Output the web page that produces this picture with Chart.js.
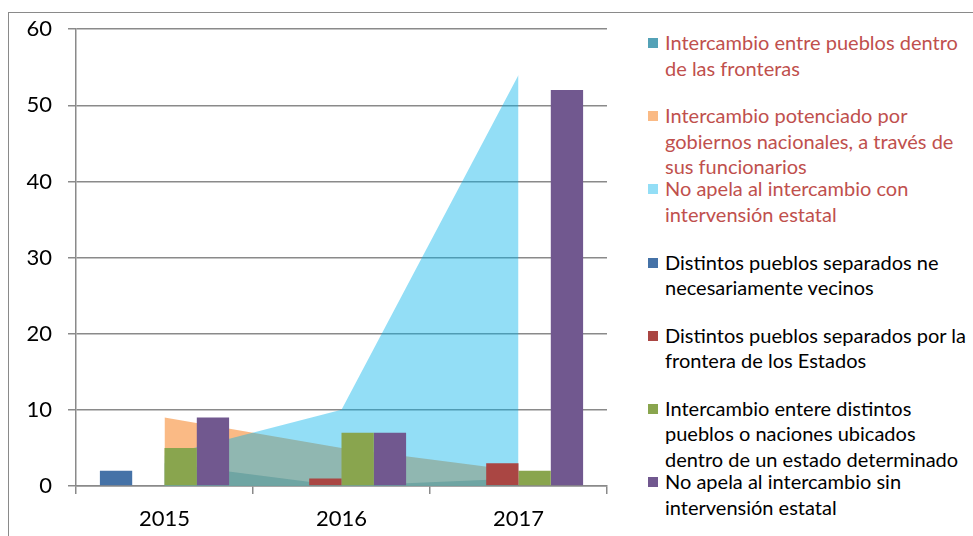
<!DOCTYPE html>
<html>
<head>
<meta charset="utf-8">
<script src="https://cdn.jsdelivr.net/npm/chart.js@4"></script>
<style>
  html, body { margin: 0; padding: 0; background: #fff; }
  #wrap { position: relative; width: 973px; height: 536px; overflow: hidden; font-family: Lato, sans-serif; }
  #frame { position: absolute; left: 8px; top: 12px; width: 980px; height: 540px; border-left: 1px solid #8a8a8a; border-top: 1px solid #8a8a8a; }
  #mixChart { position: absolute; left: 0; top: 0; }
  #legend { position: absolute; left: 648px; top: 30px; width: 325px; }
  .item { position: relative; height: 73.2px; }
  .box { position: absolute; left: 0; top: 8px; width: 10px; height: 10px; }
  .txt { position: absolute; left: 17px; top: 0; width: 306px; font-size: 20px; line-height: 25.5px; }
</style>
</head>
<body>
<div id="wrap">
  <div id="frame"></div>
  <canvas id="mixChart" width="615" height="536"></canvas>
  <div id="legend"></div>
</div>
<script>
// categories
const years = ['2015', '2016', '2017'];

// area series
const tealArea = [3, 0, 1];
const orangeArea = [9, 5, 2];
const lightBlueArea = [4, 10, 54];

// column series
const blueBars = [2, 0, 0];
const redBars = [0, 1, 3];
const greenBars = [5, 7, 2];
const purpleBars = [9, 7, 52];

// y axis
const yTicks = [0, 10, 20, 30, 40, 50, 60];

const seriesNames = [
    'Intercambio entre pueblos dentro de las fronteras',
    'Intercambio potenciado por gobiernos nacionales, a través de sus funcionarios',
    'No apela al intercambio con intervensión estatal',
    'Distintos pueblos separados ne necesariamente vecinos',
    'Distintos pueblos separados por la frontera de los Estados',
    'Intercambio entere distintos pueblos o naciones ubicados dentro de un estado determinado',
    'No apela al intercambio sin intervensión estatal'
];

const gridGray = '#8a8a8a';

function areaSet(label, data, color, order) {
    return {
        type: 'line',
        label: label,
        data: data,
        backgroundColor: color,
        borderWidth: 0,
        borderColor: 'transparent',
        fill: 'origin',
        tension: 0,
        pointRadius: 0,
        order: order
    };
}

function barSet(label, data, color, order) {
    return {
        type: 'bar',
        label: label,
        data: data,
        backgroundColor: color,
        borderWidth: 0,
        barPercentage: 1,
        categoryPercentage: 0.73,
        order: order
    };
}

// higher order is painted first: areas below, columns on top
const datasets = [
    areaSet(seriesNames[0], tealArea, 'rgba(65,152,175,0.9)', 7),
    areaSet(seriesNames[1], orangeArea, 'rgba(247,150,70,0.66)', 6),
    areaSet(seriesNames[2], lightBlueArea, 'rgba(4,178,234,0.43)', 5),
    barSet(seriesNames[3], blueBars, '#4572A7', 1),
    barSet(seriesNames[4], redBars, '#AA4643', 2),
    barSet(seriesNames[5], greenBars, '#89A54E', 3),
    barSet(seriesNames[6], purpleBars, '#71588F', 4)
];

const ctx = document.getElementById('mixChart').getContext('2d');

const mixChart = new Chart(ctx, {
    type: 'bar',
    data: { labels: years, datasets: datasets },
    options: {
        responsive: false,
        animation: false,
        layout: { padding: { top: 28, right: 8, left: 0, bottom: 0 } },
        plugins: {
            legend: { display: false },
            tooltip: { enabled: false }
        },
        scales: {
            x: {
                offset: true,
                grid: {
                    offset: true,
                    drawOnChartArea: false,
                    drawTicks: true,
                    tickLength: 8,
                    color: gridGray,
                    lineWidth: 1.5
                },
                border: { display: true, color: gridGray, width: 1.5 },
                ticks: {
                    color: '#000',
                    padding: 12,
                    font: { size: 22, family: 'Lato, sans-serif' }
                },
                afterFit: (scale) => { scale.height = 50; }
            },
            y: {
                min: 0,
                max: 60,
                afterBuildTicks: (scale) => { scale.ticks = yTicks.map(v => ({ value: v })); },
                grid: {
                    color: gridGray,
                    lineWidth: 1.5,
                    drawTicks: true,
                    tickLength: 8
                },
                border: { display: true, color: gridGray, width: 1.5 },
                ticks: {
                    color: '#000',
                    padding: 16,
                    font: { size: 22, family: 'Lato, sans-serif' }
                },
                afterFit: (scale) => { scale.width = 76; }
            }
        }
    }
});

// legend built from the datasets, first three in red text like the original
const legendEl = document.getElementById('legend');
datasets.forEach((ds, i) => {
    const item = document.createElement('div');
    item.className = 'item';
    const box = document.createElement('div');
    box.className = 'box';
    box.style.background = ds.backgroundColor;
    const txt = document.createElement('div');
    txt.className = 'txt';
    txt.style.color = i < 3 ? '#C0504D' : '#000';
    txt.textContent = ds.label;
    item.appendChild(box);
    item.appendChild(txt);
    legendEl.appendChild(item);
});
</script>
</body>
</html>
